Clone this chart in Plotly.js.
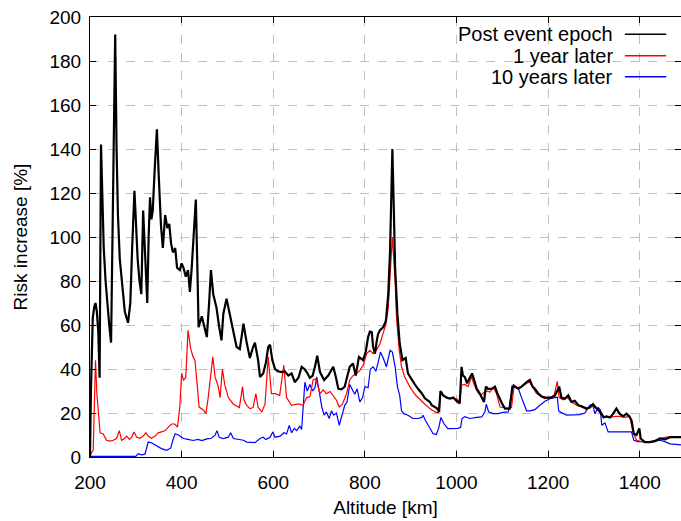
<!DOCTYPE html>
<html>
<head>
<meta charset="utf-8">
<script src="https://cdn.plot.ly/plotly-3.0.1.min.js"></script>
<style>
html,body{margin:0;padding:0;background:#fff;}
#chart{width:681px;height:521px;}
</style>
</head>
<body>
<div id="chart"></div>
<script>
// Post event epoch (black)
const postX = [200,202,206,209,212,215,218,221,224,227,230,234,238,242,246,250,255,258,261,265,270,276,283,288,292,297,300,304,308,312,316,320,325,328,331,334,337,341,346,350,355,359,364,369,373,377,381,386,390,396,400,404,409,414,418,422,426,431,435,437,444,449,455,460,464,469,476,482,487,491,498,505,513,520,527,535,542,549,556,560,567,571,578,584,589,593,598,604,610,618,625,633,640,647,655,662,668,673,680,686,691,696,702,711,720,726,731,737,742,749,756,762,767,774,780,787,796,802,807,811,815,818,822,826,829,833,840,846,851,855,858,860,863,866,871,876,882,889,894,902,909,916,924,931,942,946,953,958,962,965,971,978,985,993,1000,1007,1011,1014,1018,1023,1029,1034,1040,1044,1049,1055,1060,1064,1069,1077,1084,1089,1095,1100,1106,1116,1122,1127,1135,1142,1153,1160,1166,1171,1178,1186,1193,1200,1207,1215,1224,1229,1236,1244,1251,1258,1266,1273,1284,1291,1298,1306,1314,1321,1327,1335,1342,1349,1356,1364,1371,1377,1382,1387,1393,1399,1402,1411,1422,1433,1444,1455,1466,1490];
const postY = [0,30,63,68,70,66,57,36,142,110,95,80,68,60,52,110,192,140,110,90,78,66,61,70,95,121,108,90,80,74,112,95,70,100,118,108,112,130,149,128,105,95,110,104,106,97,93,95,86,85,88,86,82,85,75,86,100,117,80,59,64,60,54.5,70,85,74,68,59,53,65,72,65,56,50,49,60.6,52,45,50,52,44,36.4,38,43,50,51,44,40,39,38.6,39,37,38,34,36,41,40,38.6,36,37,41,46,38.6,35,37,39,41,36,31,30.8,32,37,41,42.5,37,45.5,44,48,54.5,57,56.8,50,47,53,56,57.6,59,62,74,94,124,140,114,86,65,51.6,44,45,38,35,33,31,29,26.7,25,23.5,22.7,22,20.5,30,28,27,26.5,27,25.5,24.4,41,37,36.4,33.5,36,38,34,31,29.5,27,25,32,31,31,32,29,25.8,24,22,22,32,32,31,32,34,35,32,31,29,27.5,27,27,27,28,32,27,26.5,28,25,25.5,23.5,23,22,22.5,24,22,20.5,18,18.5,18,19.7,22,19.7,18.5,19.7,18.5,16.7,10.6,10,13,8.4,6.8,6.8,7.2,8.4,8,9,9];

// 1 year later (red)
const yr1X = [200,203,207,210,212,215,222,229,236,244,251,258,264,269,276,280,286,291,296,302,309,316,322,327,334,342,349,356,364,371,378,385,391,396,400,404,409,414,420,425,429,434,438,447,453,458,468,473,480,484,489,494,502,513,520,526,533,536,542,549,556,562,567,575,582,589,596,604,614,623,629,640,651,658,665,673,680,687,693,698,702,709,716,724,731,738,744,751,760,767,774,782,789,796,804,811,818,825,833,840,846,851,856,860,866,869,875,880,887,898,909,920,931,942,953,960,965,971,981,993,1000,1007,1011,1018,1025,1033,1038,1046,1053,1058,1065,1073,1080,1087,1095,1102,1113,1120,1126,1133,1142,1153,1160,1167,1174,1184,1193,1204,1213,1220,1224,1233,1242,1251,1262,1273,1284,1295,1306,1314,1324,1335,1346,1356,1367,1378,1385,1393,1404,1415,1429,1444,1458,1490];
const yr1Y = [0,2,3,38,44,29,11,10.5,7.6,7.2,7.6,8.5,12,7.6,8.5,9.5,8,9,11.4,9,8.5,9.5,11,9.5,8.5,9.5,11,11.4,12,13.6,15,15,13.6,22.7,38,35,36,57.6,49,45.5,44,33,22.7,21.5,19.7,27,45.5,36.4,32,27,40,33,27,24,23,22.5,32,26,23.5,22,22.5,28.8,22.5,20.5,24,45.5,28.8,28.8,28,41.7,27,23.5,24,24,23.5,27,27.5,35,35.5,32,28.8,30.5,28.8,29.8,27.5,25.8,22.7,24,28.8,35,37,38,39.4,41.5,47,48.5,47,48.5,51.5,56,60.6,68,86,100,80,63.6,48.5,41,36.4,32,28.5,26,24,22,20.5,20,29,28,27,26.5,26.5,25,32.6,33,32,36.4,33,29.5,28,29,30,29.5,31.5,29,22.7,22.5,22,22.5,32.6,31.5,32,33.5,34,31.5,29,27.5,26.5,27,28,34.4,27,26,27,25,23.5,23,21.5,23.5,22,19.7,18,18,18.5,18.5,18,18.5,11.4,7.6,7,6.8,7.2,8.4,9,9];

// 10 years later (blue)
const yr10X = [200,300,305,313,320,327,334,345,356,367,376,382,386,393,404,414,425,436,444,455,465,473,477,482,491,502,507,513,524,535,542,553,560,571,578,584,593,599,604,615,623,629,635,640,646,651,658,662,665,669,674,680,686,691,695,701,706,711,716,722,727,732,738,744,751,756,761,767,773,778,783,789,795,800,807,812,818,824,829,834,840,847,855,860,866,869,871,876,880,885,894,905,916,924,927,931,942,949,956,961,966,973,981,993,1003,1009,1012,1018,1029,1044,1055,1062,1065,1070,1080,1091,1102,1113,1120,1124,1130,1135,1142,1148,1153,1160,1171,1182,1193,1204,1213,1220,1223,1226,1240,1255,1269,1280,1291,1297,1302,1309,1314,1317,1324,1331,1382,1387,1396,1411,1429,1444,1455,1466,1490];
const yr10Y = [0.3,0.3,1.5,1,1.3,6.8,6.5,5.3,3.8,3,4,8.4,10.6,10,8.4,8,7.5,8,7.5,8.2,8.5,9.9,12,9,8.4,9,11,8.4,8,7.6,6.8,6.8,6.5,8.4,9,7.9,9,11.4,9,9.5,11,10.5,14.4,11,13,12,14,12.5,24,34,30,33,30,31.5,36.4,28.5,22.7,19,20.5,17.5,21,19,20,14.4,20.5,23.5,25,33,30.5,28.5,31,25,27,32,31.5,40,41,39,43,47.7,45,41,48.5,47.7,41,33,32,28,21,19.7,19,17.5,17.5,18,19,17,12.9,10.6,10.2,13,18,15,12.9,12.9,13,13.5,17.5,18.3,17.5,18,18.2,20.5,24,20.5,19.7,19.7,20.3,20.5,28,33,31.5,31,27,24,21,21,21.5,23.5,25.3,26.5,27,27.2,21,20.5,19,19,19.3,20,23.5,24,19.7,22.5,21.5,14.4,15.5,11.4,11.4,7.6,7,7,7,7.6,7,6,5.5];

const seriesNames = ["Post event epoch", "1 year later", "10 years later"];
const seriesColors = ["#000000", "#ff0000", "#0000ff"];
const seriesWidths = [2.2, 1.2, 1.2];
const xTicks = [200,400,600,800,1000,1200,1400];
const yTicks = [0,20,40,60,80,100,120,140,160,180,200];

const font = "Liberation Sans, Arial, Helvetica, sans-serif";

const traces = [
  {x: postX, y: postY},
  {x: yr1X, y: yr1Y},
  {x: yr10X, y: yr10Y}
].map((t, i) => ({
  x: t.x, y: t.y, type: "scatter", mode: "lines", name: seriesNames[i],
  line: {color: seriesColors[i], width: seriesWidths[i]}, showlegend: false
}));
// draw blue first, then red, then black on top
const ordered = [traces[2], traces[1], traces[0]];

const legY = [0.961, 0.912, 0.864];
const annotations = seriesNames.map((n, i) => ({
  xref: "paper", yref: "paper", x: 0.888, y: legY[i], xanchor: "right", yanchor: "middle",
  text: n, showarrow: false, font: {family: font, size: 20, color: "#000"}
}));
const shapes = seriesNames.map((n, i) => ({
  type: "line", xref: "paper", yref: "paper", x0: 0.905, x1: 0.975, y0: legY[i], y1: legY[i],
  line: {color: seriesColors[i], width: 1.5}
}));

const layout = {
  width: 681, height: 521,
  margin: {l: 90, r: 0, t: 17, b: 64},
  paper_bgcolor: "#fff", plot_bgcolor: "#fff",
  font: {family: font, size: 19, color: "#000"},
  xaxis: {
    range: [200, 1490], tickvals: xTicks, ticks: "inside", ticklen: 6, tickcolor: "#000",
    showline: true, linecolor: "#000", linewidth: 1, mirror: "ticks",
    showgrid: true, gridcolor: "#c0c0c0", griddash: "dash", gridwidth: 1, zeroline: false,
    ticklabelstandoff: 8,
    tickfont: {family: font, size: 19},
    title: {text: "Altitude [km]", font: {family: font, size: 19}, standoff: 8}
  },
  yaxis: {
    range: [0, 200], tickvals: yTicks, ticks: "inside", ticklen: 6, tickcolor: "#000",
    showline: true, linecolor: "#000", linewidth: 1, mirror: "ticks",
    showgrid: true, gridcolor: "#c0c0c0", griddash: "dash", gridwidth: 1, zeroline: false,
    ticklabelstandoff: 4,
    tickfont: {family: font, size: 19},
    title: {text: "Risk increase [%]", font: {family: font, size: 19}, standoff: 16}
  },
  annotations: annotations,
  shapes: shapes
};

Plotly.newPlot("chart", ordered, layout, {staticPlot: true, displayModeBar: false});
</script>
</body>
</html>
